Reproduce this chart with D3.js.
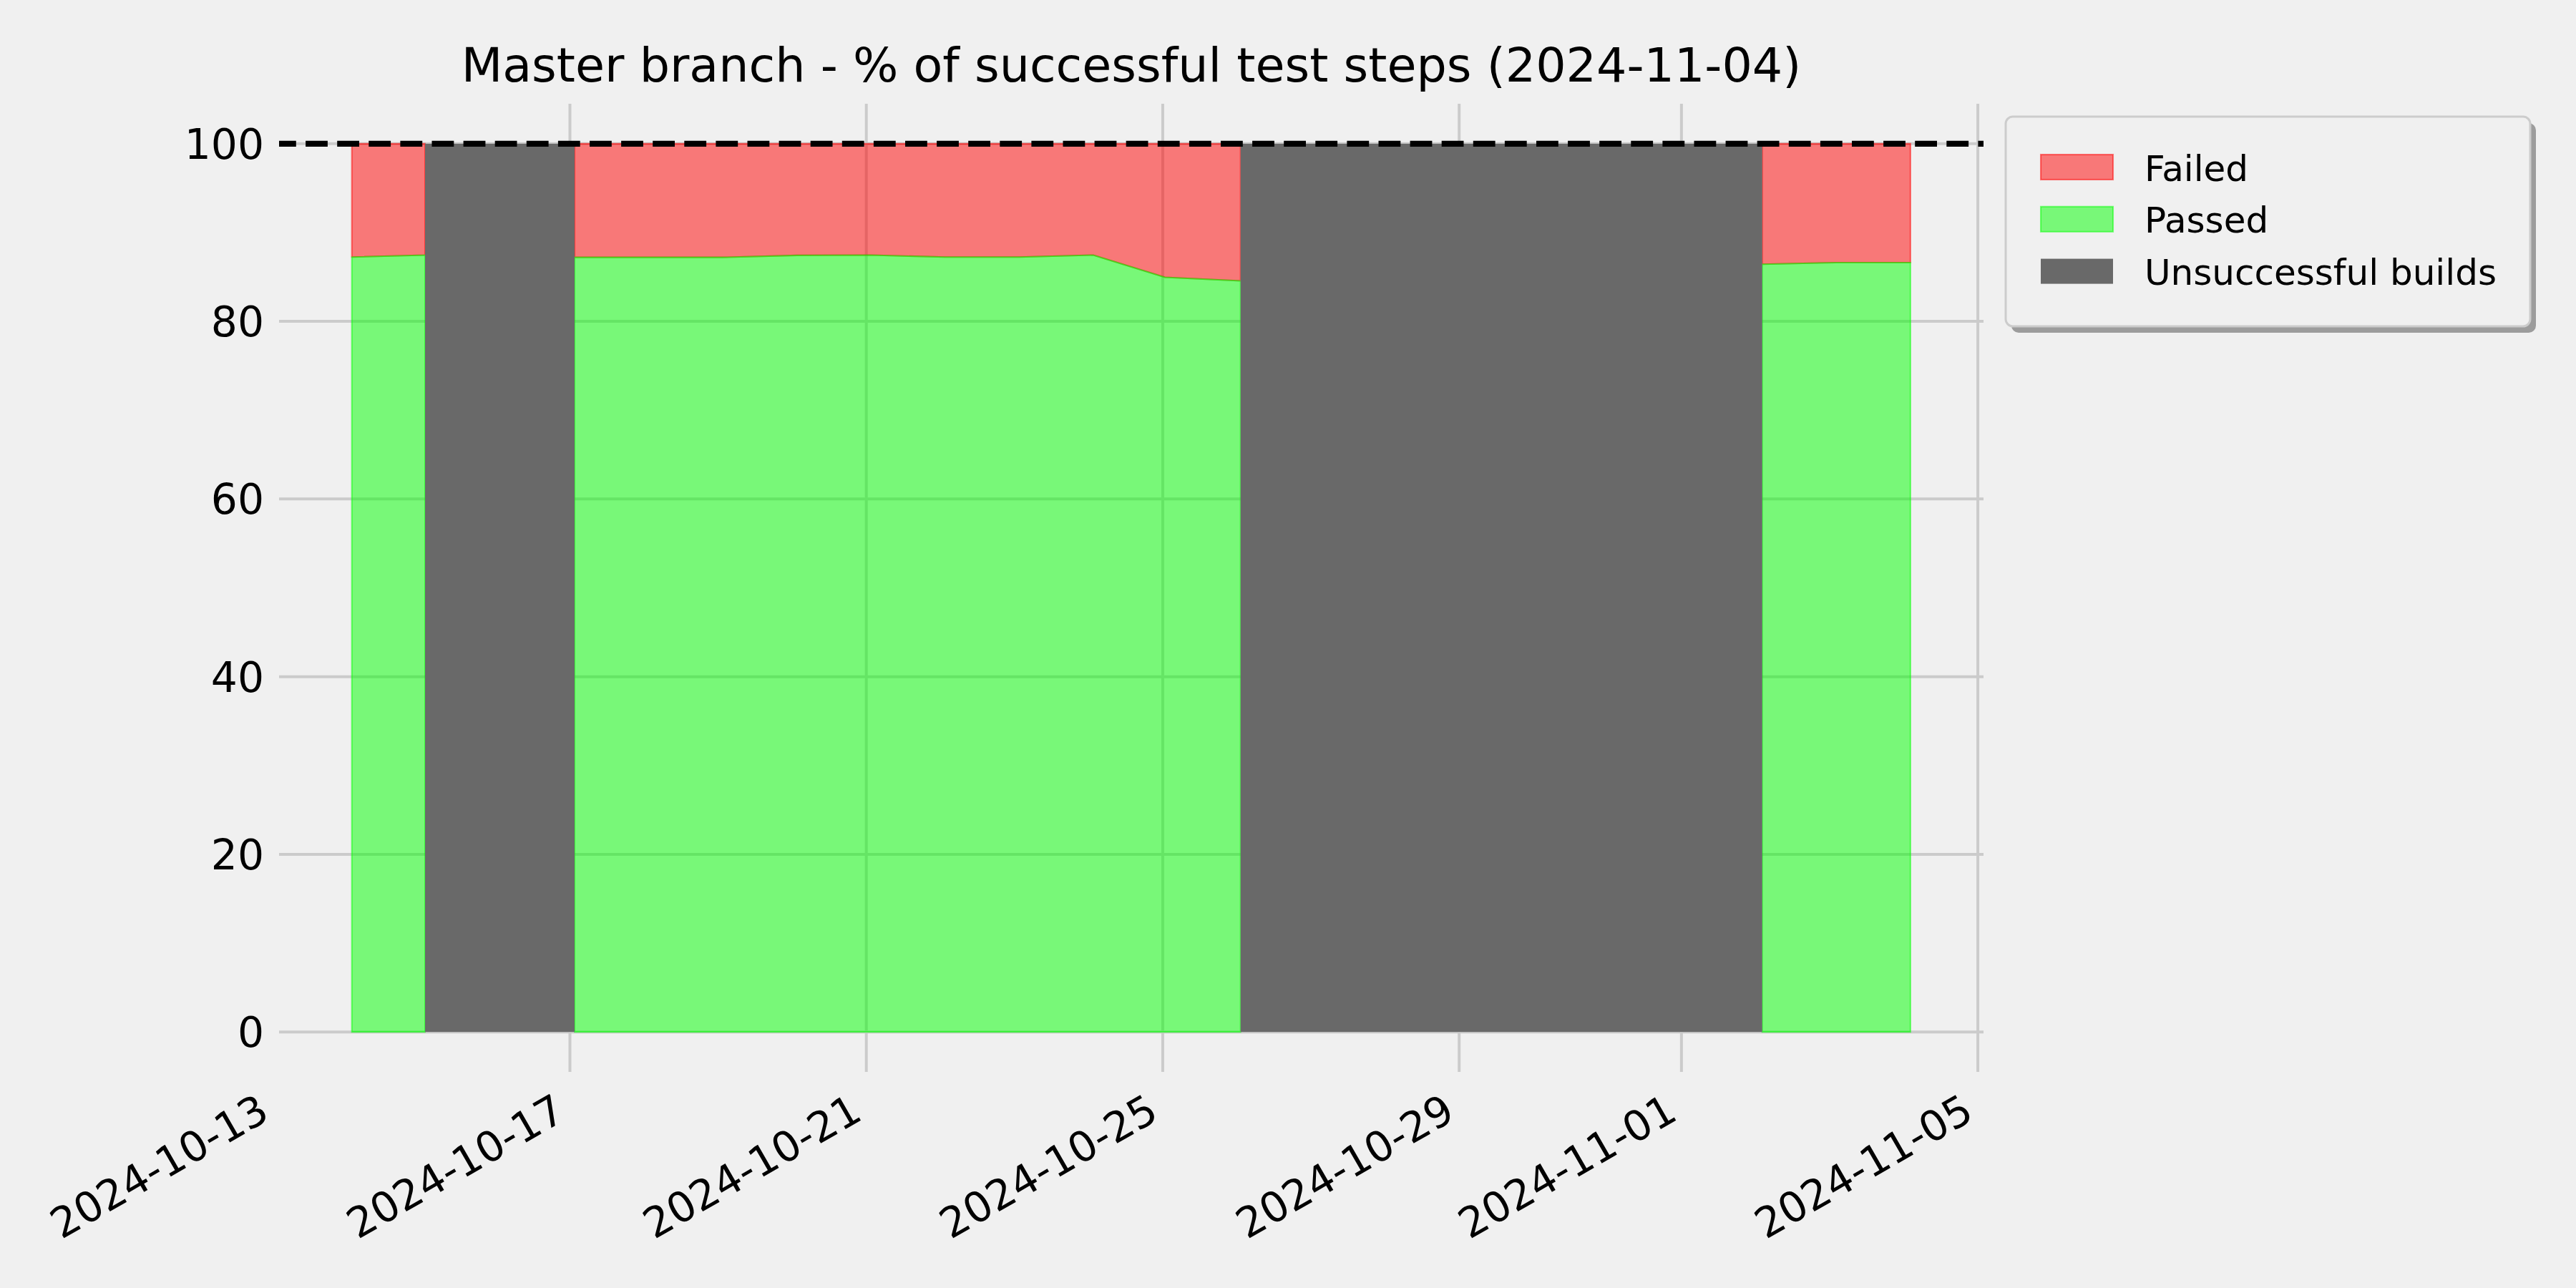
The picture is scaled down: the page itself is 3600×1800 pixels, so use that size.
<!DOCTYPE html>
<html>
<head>
<meta charset="utf-8">
<script src="https://cdn.jsdelivr.net/npm/d3@7"></script>
<style>
  html, body { margin: 0; padding: 0; background: #f0f0f0; }
  svg { display: block; }
  text { font-family: "DejaVu Sans", sans-serif; fill: #000; }
</style>
</head>
<body>
<svg id="chart" width="3600" height="1800"></svg>
<script>
// ---- data ----
const buildDates = [
  "2024-10-14T01:22", "2024-10-15T01:05", "2024-10-16T01:30", "2024-10-17T01:31",
  "2024-10-18T01:30", "2024-10-19T01:30", "2024-10-20T01:30", "2024-10-21T01:30",
  "2024-10-22T01:30", "2024-10-23T01:30", "2024-10-24T01:30", "2024-10-25T00:43",
  "2024-10-26T01:12", "2024-10-27T01:30", "2024-10-28T01:30", "2024-10-29T01:30",
  "2024-10-30T01:30", "2024-10-31T01:30", "2024-11-01T01:30", "2024-11-02T02:10",
  "2024-11-03T02:10", "2024-11-04T02:10"
];
// null = unsuccessful build
const passedPct = [
  87.24, 87.46, null, 87.21, 87.21, 87.21, 87.43, 87.46, 87.24, 87.24, 87.46, 84.96,
  84.56, null, null, null, null, null, null, 86.43, 86.62, 86.62
];
const failedPct = [
  12.76, 12.54, null, 12.79, 12.79, 12.79, 12.57, 12.54, 12.76, 12.76, 12.54, 15.04,
  15.44, null, null, null, null, null, null, 13.57, 13.38, 13.38
];
const xTickLabels = ["2024-10-13", "2024-10-17", "2024-10-21", "2024-10-25", "2024-10-29", "2024-11-01", "2024-11-05"];
const yTicks = [0, 20, 40, 60, 80, 100];
const legendLabels = ["Failed", "Passed", "Unsuccessful builds"];
const titleText = "Master branch - % of successful test steps (2024-11-04)";
const xDomain = ["2024-10-13T01:48", "2024-11-05T01:50"];
const yDomain = [-4.5, 104.5];

// ---- layout ----
const L = 390, R = 2772, T = 145, B = 1498;
const parse = d3.timeParse("%Y-%m-%dT%H:%M");
const parseDay = d3.timeParse("%Y-%m-%d");

const rows = buildDates.map((d, i) => ({
  date: parse(d), passed: passedPct[i], failed: failedPct[i]
}));

const x = d3.scaleTime().domain(xDomain.map(parse)).range([L, R]);
const y = d3.scaleLinear().domain(yDomain).range([B, T]);

const svg = d3.select("#chart");
svg.append("rect").attr("width", 3600).attr("height", 1800).attr("fill", "#f0f0f0");

// grid
const grid = svg.append("g");
yTicks.forEach(v => {
  grid.append("line").attr("x1", L).attr("x2", R).attr("y1", y(v)).attr("y2", y(v))
    .attr("stroke", "#cbcbcb").attr("stroke-width", 4);
});
const tickDates = xTickLabels.map(parseDay);
tickDates.forEach(d => {
  const px = x(d);
  if (px >= L && px <= R) {
    grid.append("line").attr("x1", px).attr("x2", px).attr("y1", T).attr("y2", B)
      .attr("stroke", "#cbcbcb").attr("stroke-width", 4);
  }
});

// areas
const defined = d => d.passed !== null;
const failedArea = d3.area().defined(defined)
  .x(d => x(d.date)).y0(d => y(d.passed)).y1(d => y(d.passed + d.failed));
const passedArea = d3.area().defined(defined)
  .x(d => x(d.date)).y0(() => y(0)).y1(d => y(d.passed));

// split into contiguous segments so each polygon gets its own outline
const segments = [];
let cur = [];
rows.forEach(r => {
  if (defined(r)) cur.push(r); else { if (cur.length) segments.push(cur); cur = []; }
});
if (cur.length) segments.push(cur);

segments.forEach(seg => {
  svg.append("path").attr("d", failedArea(seg))
    .attr("fill", "rgba(255,0,0,0.5)").attr("stroke", "rgba(255,0,0,0.5)").attr("stroke-width", 2.1);
});
segments.forEach(seg => {
  svg.append("path").attr("d", passedArea(seg))
    .attr("fill", "rgba(0,255,0,0.5)").attr("stroke", "rgba(0,255,0,0.5)").attr("stroke-width", 2.1);
});

// unsuccessful build spans: from previous successful build to next successful build
const grayGroup = svg.append("g");
for (let i = 0; i < rows.length; i++) {
  if (!defined(rows[i])) {
    let j = i;
    while (j < rows.length && !defined(rows[j])) j++;
    const start = rows[Math.max(i - 1, 0)].date;
    const end = rows[Math.min(j, rows.length - 1)].date;
    grayGroup.append("rect")
      .attr("x", x(start)).attr("width", x(end) - x(start))
      .attr("y", y(100)).attr("height", y(0) - y(100))
      .attr("fill", "#696969");
    i = j;
  }
}

// 100% dashed line
svg.append("line").attr("x1", L).attr("x2", R).attr("y1", y(100)).attr("y2", y(100))
  .attr("stroke", "#000").attr("stroke-width", 8.3)
  .attr("stroke-dasharray", "30.8,13.3").attr("stroke-dashoffset", 7);

// y tick labels
yTicks.forEach(v => {
  svg.append("text").attr("x", 369).attr("y", y(v) + 21)
    .attr("text-anchor", "end").attr("font-size", 58.3).text(v);
});

// x tick labels (rotated)
tickDates.forEach((d, i) => {
  const px = x(d) - 3, py = 1563;
  svg.append("text").attr("transform", `translate(${px},${py}) rotate(-30)`)
    .attr("text-anchor", "end").attr("font-size", 58.3).text(xTickLabels[i]);
});

// title
svg.append("text").attr("x", (L + R) / 2).attr("y", 114)
  .attr("text-anchor", "middle").attr("font-size", 66.7).text(titleText);

// legend
const lg = svg.append("g");
lg.append("rect").attr("x", 2811).attr("y", 172).attr("width", 733).attr("height", 293)
  .attr("rx", 10).attr("fill", "#9c9c9c");
lg.append("rect").attr("x", 2803).attr("y", 163).attr("width", 733).attr("height", 293)
  .attr("rx", 10).attr("fill", "#f0f0f0").attr("stroke", "#cccccc").attr("stroke-width", 3);
const patchStyles = [
  { fill: "rgba(255,0,0,0.5)", stroke: "rgba(255,0,0,0.5)" },
  { fill: "rgba(0,255,0,0.5)", stroke: "rgba(0,255,0,0.5)" },
  { fill: "#696969", stroke: "none" }
];
legendLabels.forEach((lab, i) => {
  const top = 216 + i * 72.8;
  lg.append("rect").attr("x", 2852).attr("y", top).attr("width", 101).attr("height", 35)
    .attr("fill", patchStyles[i].fill).attr("stroke", patchStyles[i].stroke).attr("stroke-width", 2.1);
  lg.append("text").attr("x", 2997).attr("y", top + 36.5).attr("font-size", 50).text(lab);
});
</script>
</body>
</html>
